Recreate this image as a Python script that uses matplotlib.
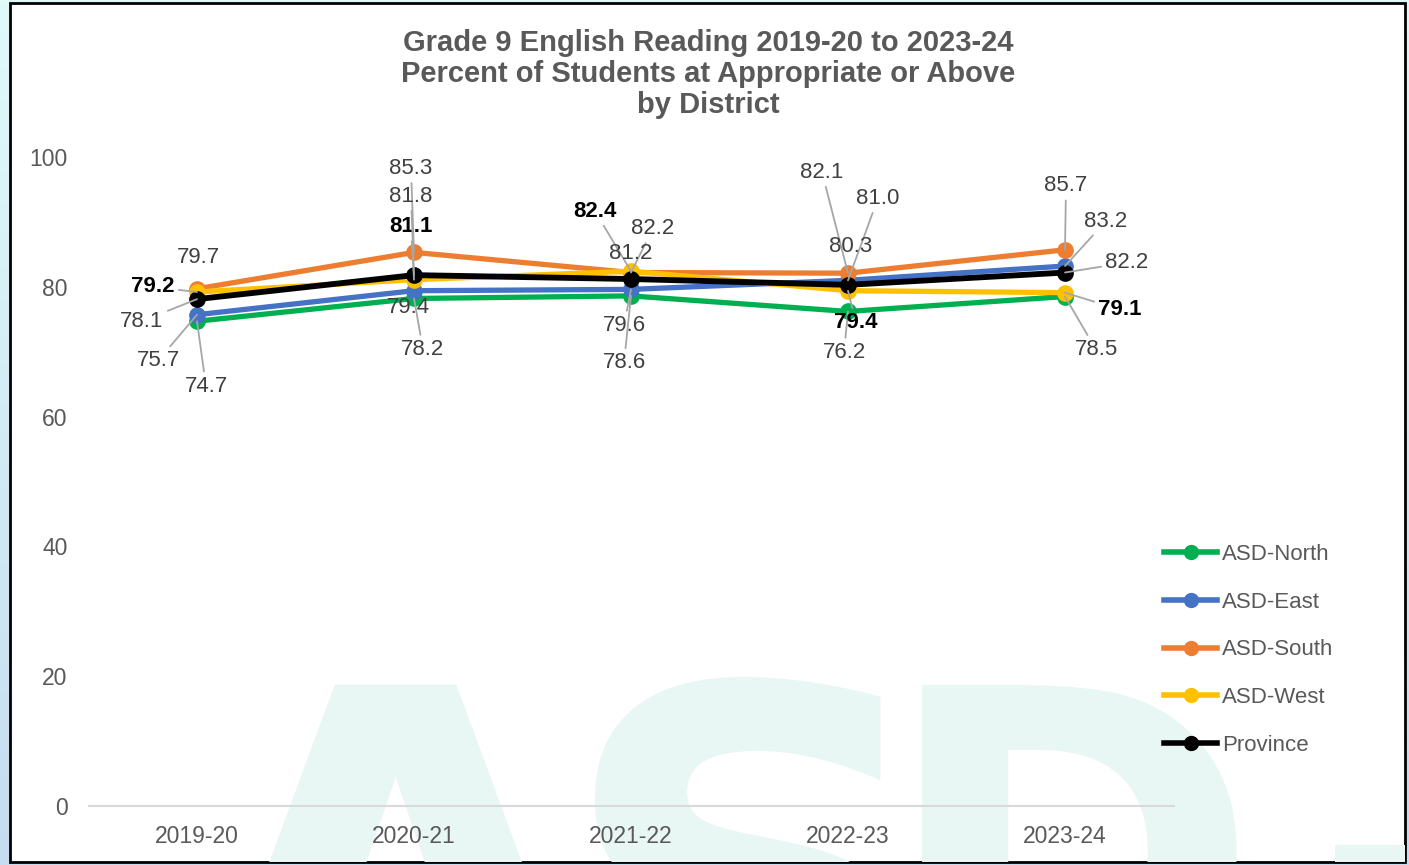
import numpy as np
import matplotlib
matplotlib.use('Agg')
import matplotlib.pyplot as plt
from matplotlib.patches import Rectangle
from matplotlib.lines import Line2D
from matplotlib import rcParams

rcParams['font.family'] = 'Liberation Sans'

# ---- data -------------------------------------------------------------------
years = ['2019-20', '2020-21', '2021-22', '2022-23', '2023-24']
series_names = ['ASD-North', 'ASD-East', 'ASD-South', 'ASD-West', 'Province']
asd_north = [74.7, 78.2, 78.6, 76.2, 78.5]
asd_east = [75.7, 79.4, 79.6, 81.0, 83.2]
asd_south = [79.7, 85.3, 82.2, 82.1, 85.7]
asd_west = [79.2, 81.1, 82.4, 79.4, 79.1]
province = [78.1, 81.8, 81.2, 80.3, 82.2]
values = [asd_north, asd_east, asd_south, asd_west, province]

# ---- styling ----------------------------------------------------------------
COLORS = ['#00B050', '#4472C4', '#ED7D31', '#FFC000', '#000000']
GREY = '#595959'
LABEL_GREY = '#404040'
LEADER = '#A6A6A6'

# label offsets in pixels (dx, dy up) and whether a leader line is drawn
LABEL_POS = {
    'ASD-North': [(9, -65, 1), (9, -51, 1), (-7, -67, 1), (-4, -41, 1), (31, -53, 1)],
    'ASD-East':  [(-39, -46, 1), (-6, -17, 0), (-7, -36, 1), (30, 82, 1), (41, 45, 1)],
    'ASD-South': [(1, 31, 0), (-3, 84, 1), (22, 44, 1), (-26, 101, 1), (1, 64, 1)],
    'ASD-West':  [(-44, 5, 1), (-3, 53, 1), (-36, 60, 1), (8, -32, 1), (55, -17, 1)],
    'Province':  [(-55, -22, 1), (-3, 79, 1), (0, 26, 0), (3, 38, 0), (62, 10, 1)],
}

W, H = 1409, 865
fig = plt.figure(figsize=(W / 100, H / 100), dpi=100)

# background gradient strip + framed white panel
bg = fig.add_axes([0, 0, 1, 1], zorder=-10)
grad = np.linspace(0, 1, 256).reshape(-1, 1)
bg.imshow(grad, aspect='auto', extent=[0, 1, 0, 1],
          cmap=matplotlib.colors.LinearSegmentedColormap.from_list('g', ['#E0FAFA', '#C6DCF0']))
bg.axis('off')
panel = Rectangle((10 / W, 3 / H), 1395 / W, 859 / H, transform=fig.transFigure,
                  facecolor='white', edgecolor='black', lw=2, zorder=-5)
fig.patches.append(panel)

# watermark (letter, x px, baseline px, size)
WM = '#E9F7F4'
for ch, xp, yb, fs in [('A', 185, -215, 390), ('S', 555, -215, 390), ('D', 880, -154, 330)]:
    t = fig.text(xp / W, yb / H, ch, fontsize=fs, fontweight='bold', color=WM,
                 ha='left', va='baseline', zorder=-4, family='DejaVu Sans')
    t.set_clip_path(panel)
dash = Rectangle((1335 / W, 3 / H), 70 / W, 17 / H, transform=fig.transFigure,
                 facecolor=WM, edgecolor='none', zorder=-4)
fig.patches.append(dash)

ax = fig.add_axes([88.5 / W, 59 / H, 1085 / W, 649 / H])
ax.set_facecolor('none')
x = np.arange(len(years))
for name, vals, col in zip(series_names, values, COLORS):
    lw = 4.2 if name == 'Province' else 3.8
    ax.plot(x, vals, color=col, lw=lw, marker='o', ms=11, label=name,
            solid_capstyle='round')

for name, vals in zip(series_names, values):
    bold = name == 'ASD-West'
    for i, v in enumerate(vals):
        dx, dy, lead = LABEL_POS[name][i]
        ap = dict(arrowstyle='-', color=LEADER, lw=1.3, shrinkA=1, shrinkB=0) if lead else None
        ax.annotate(f'{v:.1f}', (i, v), xytext=(dx, dy), textcoords='offset pixels',
                    ha='center', va='center', fontsize=16,
                    color='black' if bold else LABEL_GREY,
                    fontweight='bold' if bold else 'normal',
                    arrowprops=ap, zorder=6)

ax.set_xlim(-0.5, 4.5)
ax.set_ylim(0, 100)
ax.set_xticks(x)
ax.set_xticklabels(years)
ax.set_yticks(range(0, 101, 20))
ax.tick_params(axis='both', length=0, labelsize=16.5, colors=GREY)
ax.tick_params(axis='x', pad=14)
ax.tick_params(axis='y', pad=15)
for s in ['top', 'right', 'left']:
    ax.spines[s].set_visible(False)
ax.spines['bottom'].set_color('#D9D9D9')
ax.spines['bottom'].set_linewidth(1.5)

fig.text(708 / W, 1 - 74 / H,
         'Grade 9 English Reading 2019-20 to 2023-24\nPercent of Students at Appropriate or Above\nby District',
         ha='center', va='center', fontsize=21, fontweight='bold', color=GREY,
         linespacing=1.13)

handles = [Line2D([], [], color=c, lw=4, marker='o', ms=10) for c in COLORS]
fig.legend(handles, series_names, loc='upper left', bbox_to_anchor=(1153 / W, 1 - 533 / H),
           frameon=False, fontsize=16, handlelength=2.4, handletextpad=0.2,
           labelspacing=1.2, labelcolor=GREY, borderpad=0)

fig.savefig('out.png', dpi=100)
